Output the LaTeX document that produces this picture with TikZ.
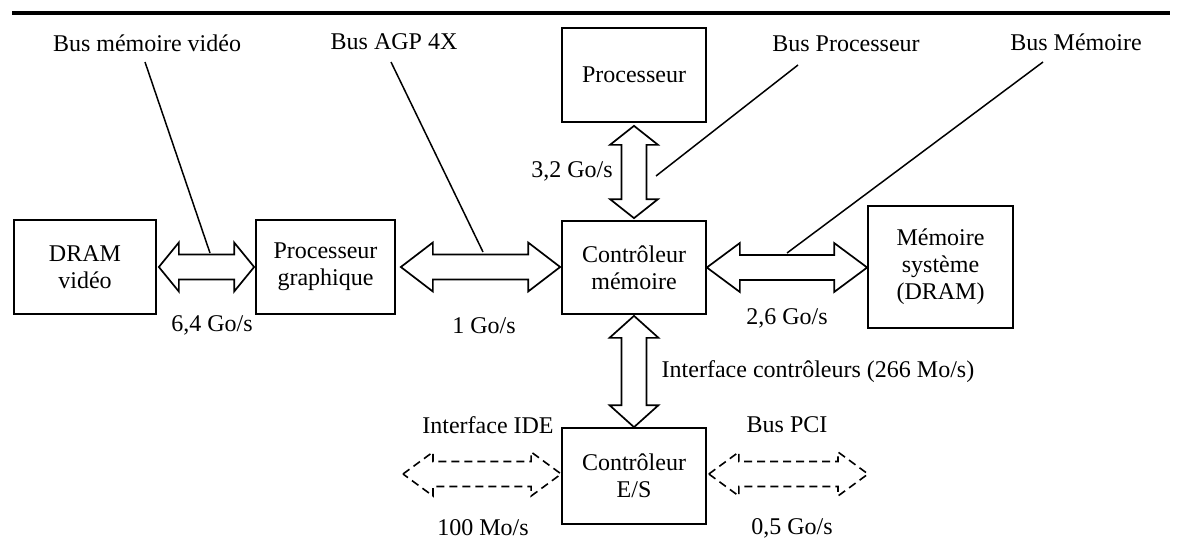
\documentclass[tikz,border=0pt]{standalone}
\usepackage{fontspec}
\setmainfont{Liberation Serif}
\usetikzlibrary{calc}

% horizontal double-headed bus arrow: [style]{left tip}{right tip}{head length}{head half-width}
\newcommand\hbus[5][]{%
  \draw[bus,#1] let \p1=(#2), \p2=(#3) in
    (\x1,\y1) -- (\x1+#4pt,\y1+#5pt) -- (\x1+#4pt,\y1+12.5pt)
    -- (\x2-#4pt,\y1+12.5pt) -- (\x2-#4pt,\y1+#5pt) -- (\x2,\y1)
    -- (\x2-#4pt,\y1-#5pt) -- (\x2-#4pt,\y1-12.5pt)
    -- (\x1+#4pt,\y1-12.5pt) -- (\x1+#4pt,\y1-#5pt) -- cycle;}
% vertical double-headed bus arrow: [style]{top tip}{bottom tip}{head length}{head half-width}
\newcommand\vbus[5][]{%
  \draw[bus,#1] let \p1=(#2), \p2=(#3) in
    (\x1,\y1) -- (\x1+#5pt,\y1-#4pt) -- (\x1+12.5pt,\y1-#4pt)
    -- (\x1+12.5pt,\y2+#4pt) -- (\x1+#5pt,\y2+#4pt) -- (\x1,\y2)
    -- (\x1-#5pt,\y2+#4pt) -- (\x1-12.5pt,\y2+#4pt)
    -- (\x1-12.5pt,\y1-#4pt) -- (\x1-#5pt,\y1-#4pt) -- cycle;}

\tikzset{
  unit/.style={draw, line width=1.7pt, inner sep=0pt, align=center,
    font=\fontsize{24}{27}\selectfont},
  bus/.style={line width=1.7pt, line join=miter},
  dbus/.style={line width=1.6pt, dash pattern=on 8pt off 5pt},
  lbl/.style={inner sep=0pt, font=\fontsize{24}{27}\selectfont},
  leader/.style={line width=1.5pt},
}

\begin{document}
\begin{tikzpicture}[x=1pt, y=-1pt]
\useasboundingbox (0,0) rectangle (1182,543);

% top rule
\draw[line width=3.5pt] (12,13) -- (1170,13);

% functional units
\node[unit, minimum width=142pt, minimum height=94pt] (dram) at (85,267) {DRAM\\vidéo};
\node[unit, minimum width=139pt, minimum height=94pt] (gpu) at (325.5,267) {Processeur\\graphique};
\node[unit, minimum width=144pt, minimum height=93pt] (mc) at (634,267.5) {Contrôleur\\mémoire};
\node[unit, minimum width=144pt, minimum height=94pt] (cpu) at (634,75) {Processeur};
\node[unit, minimum width=145pt, minimum height=122pt] (sysmem) at (940.5,267) {Mémoire\\système\\(DRAM)};
\node[unit, minimum width=144pt, minimum height=96pt] (io) at (634,476) {Contrôleur\\E/S};

% free ends of the expansion buses
\coordinate (ideend) at (403,474);
\coordinate (pciend) at (868,474);

% buses
\hbus{$(dram.east)+(2,0)$}{$(gpu.west)+(-1,0)$}{20}{24.5}
\hbus{$(gpu.east)+(5,0)$}{$(mc.west)+(-1,0)$}{32}{24.5}
\hbus{mc.east}{sysmem.west}{33}{24.5}
\vbus{$(cpu.south)+(0,3)$}{$(mc.north)+(0,-2)$}{19}{24}
\vbus{$(mc.south)+(0,1)$}{io.north}{22}{24.5}
\hbus[dbus]{ideend}{$(io.west)+(0,-2)$}{30}{22}
\hbus[dbus]{$(io.east)+(2,-2)$}{pciend}{30}{22}

% bus names and rates
\node[lbl] (lvid) at (147,43) {Bus mémoire vidéo};
\node[lbl] (lagp) at (394,42) {Bus AGP 4X};
\node[lbl] (lcpu) at (846,44) {Bus Processeur};
\node[lbl] (lmem) at (1076,42) {Bus Mémoire};
\node[lbl] (r32) at (572,171) {3,2 Go/s};
\node[lbl] (r64) at (212,325) {6,4 Go/s};
\node[lbl] (r1) at (484,326) {1 Go/s};
\node[lbl] (r26) at (787,318) {2,6 Go/s};
\node[lbl] (lint) at (818,372) {Interface contrôleurs (266 Mo/s)};
\node[lbl] (lide) at (488,425) {Interface IDE};
\node[lbl] (lpci) at (787,425) {Bus PCI};
\node[lbl] (r100) at (483,528) {100 Mo/s};
\node[lbl] (r05) at (792,528) {0,5 Go/s};

% leader lines from the bus names down to the buses
\coordinate (svid) at (145,62);
\coordinate (sagp) at (391,62);
\coordinate (scpu) at (798,65);
\coordinate (smem) at (1043,62);
\coordinate (pvid) at (210,253);
\coordinate (pagp) at (483,252);
\coordinate (pcpu) at (656,176);
\coordinate (pmem) at (787,253);
\draw[leader] (svid) -- (pvid);
\draw[leader] (sagp) -- (pagp);
\draw[leader] (scpu) -- (pcpu);
\draw[leader] (smem) -- (pmem);
\end{tikzpicture}
\end{document}
